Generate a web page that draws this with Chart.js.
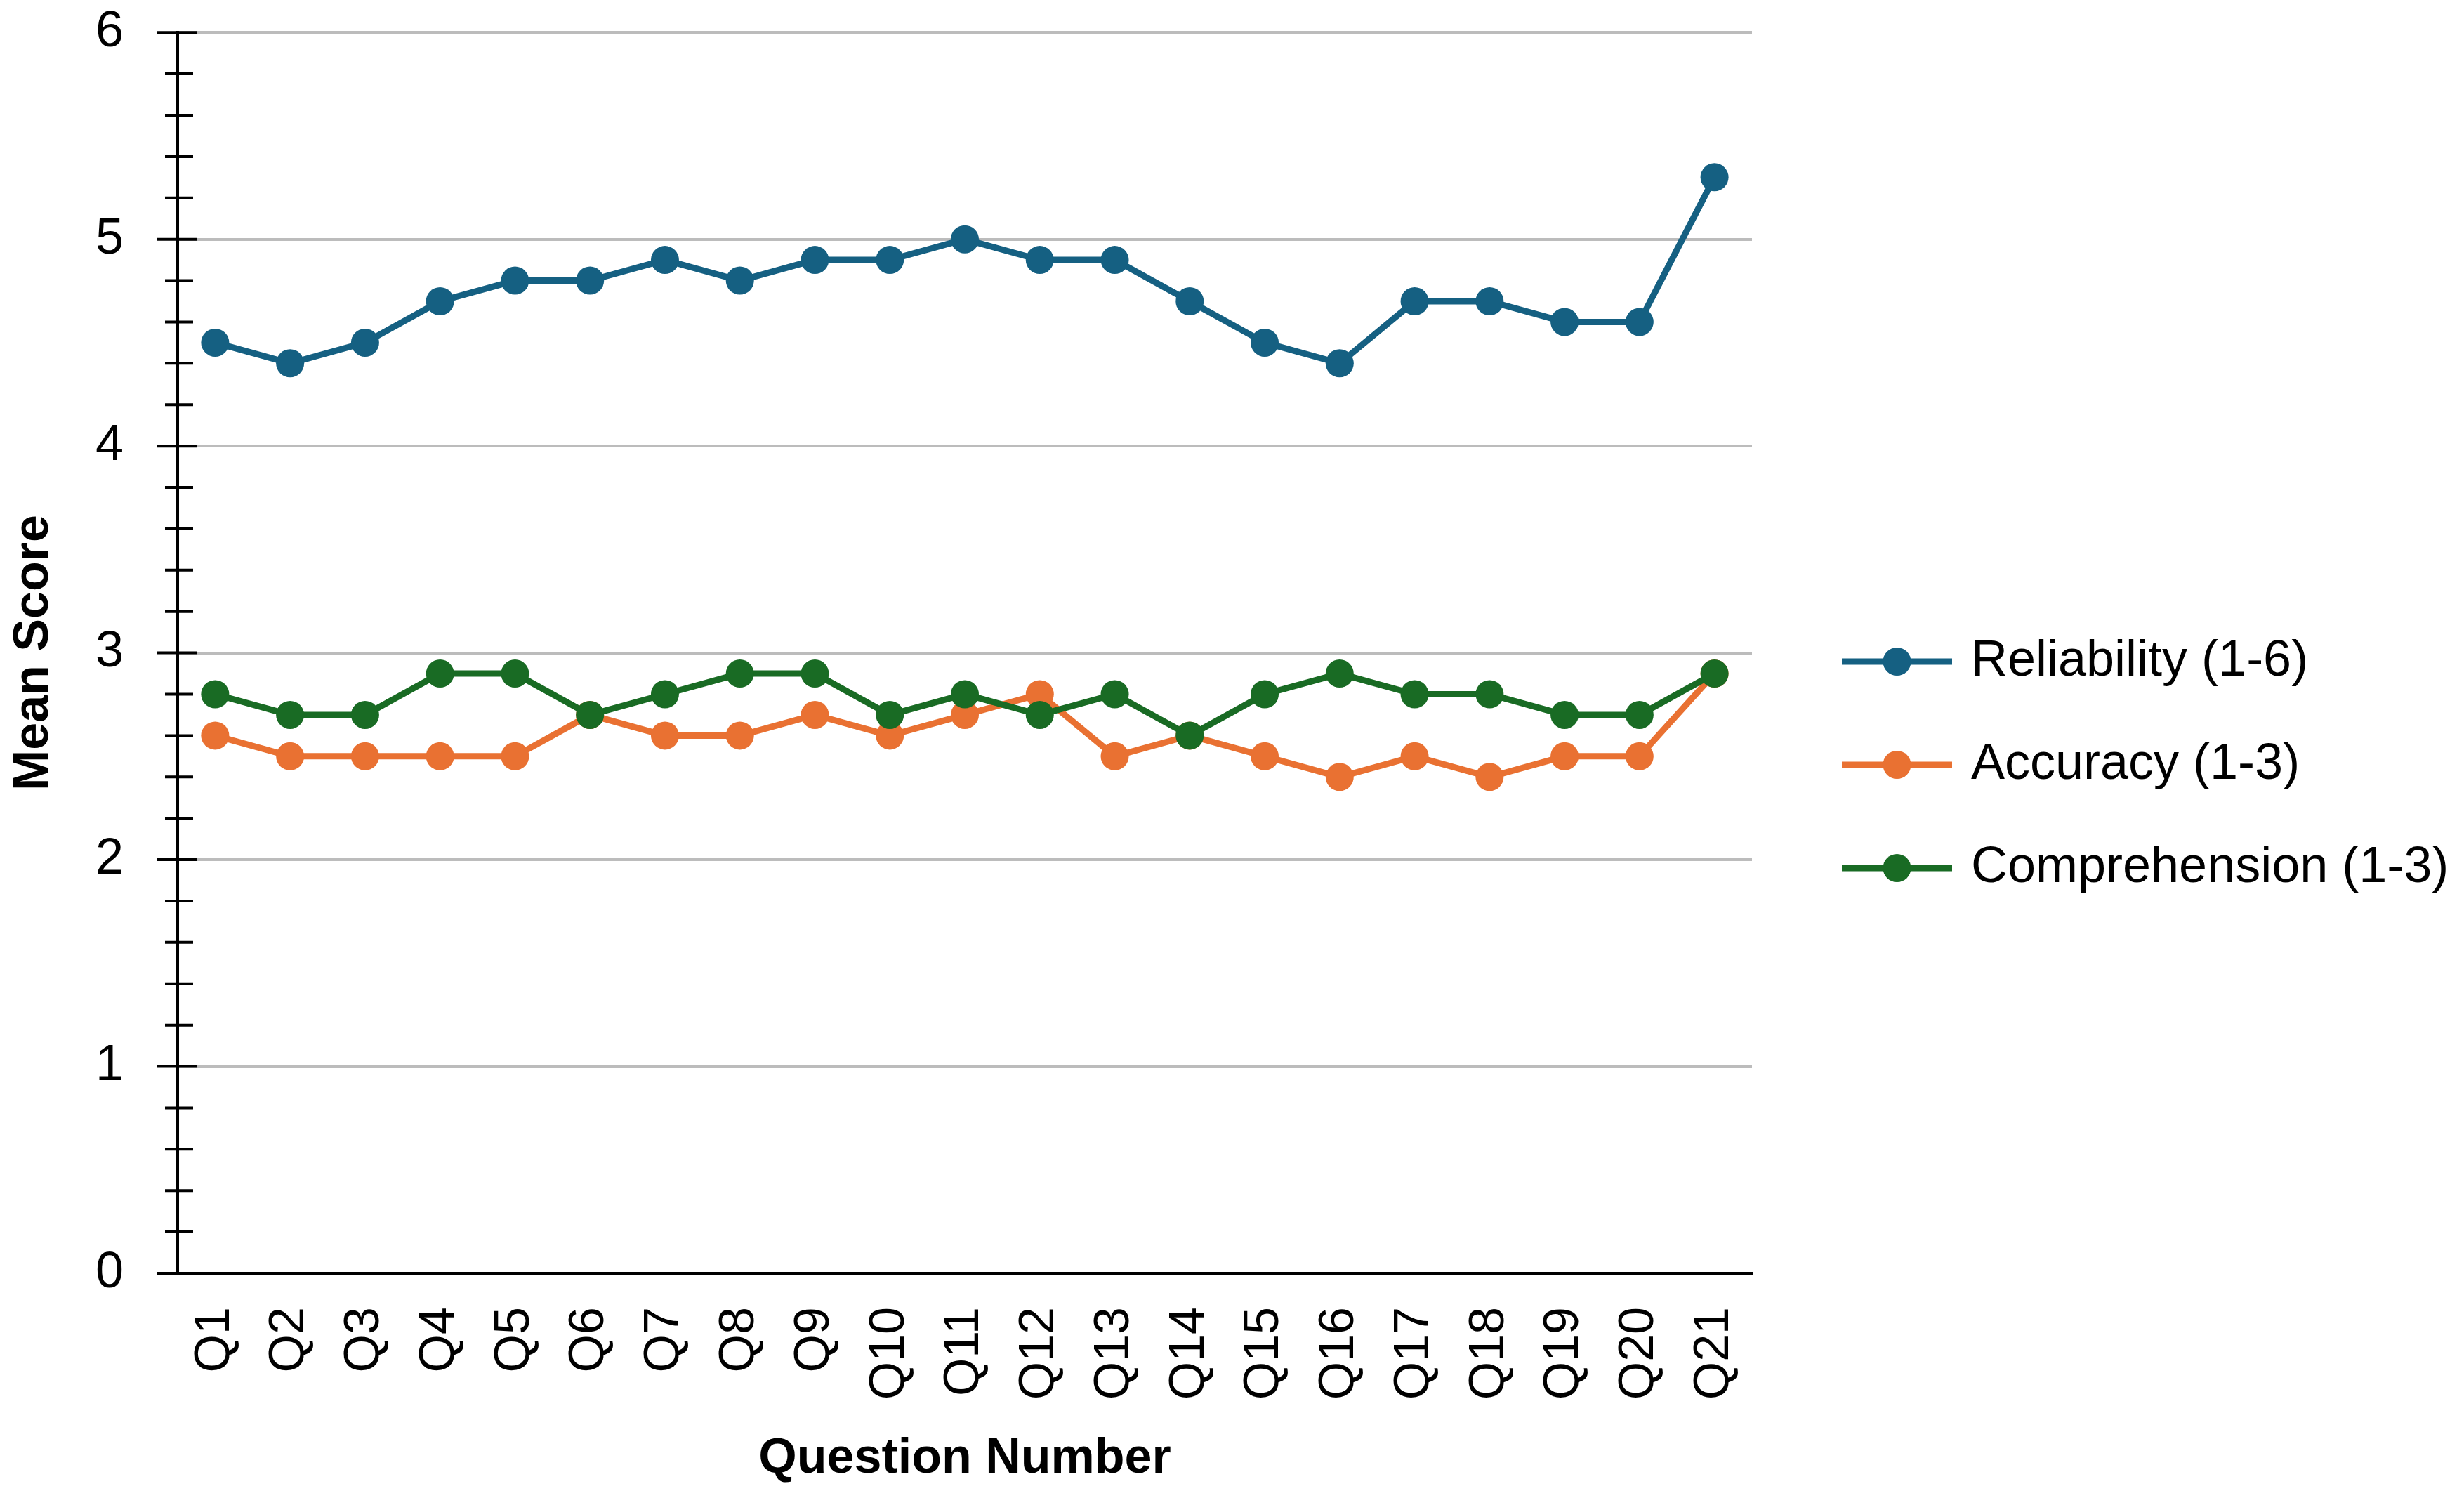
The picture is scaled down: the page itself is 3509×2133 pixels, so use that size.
<!DOCTYPE html>
<html lang="en">
<head>
  <meta charset="UTF-8">
  <title>Mean Score by Question Number</title>
  <style>
    body {
      margin: 0;
      background: #fff;
    }

    #chart-container {
      width: 3509px;
      height: 2133px;
    }
  </style>
</head>
<body>
  <div id="chart-container">
    <canvas id="lineChart"></canvas>
  </div>

  <script src="https://cdn.jsdelivr.net/npm/chart.js"></script>
  <script>
    // values
    const questions = ['Q1', 'Q2', 'Q3', 'Q4', 'Q5', 'Q6', 'Q7', 'Q8', 'Q9', 'Q10', 'Q11',
      'Q12', 'Q13', 'Q14', 'Q15', 'Q16', 'Q17', 'Q18', 'Q19', 'Q20', 'Q21'];
    const reliability = [4.5, 4.4, 4.5, 4.7, 4.8, 4.8, 4.9, 4.8, 4.9, 4.9, 5.0,
      4.9, 4.9, 4.7, 4.5, 4.4, 4.7, 4.7, 4.6, 4.6, 5.3];
    const accuracy = [2.6, 2.5, 2.5, 2.5, 2.5, 2.7, 2.6, 2.6, 2.7, 2.6, 2.7,
      2.8, 2.5, 2.6, 2.5, 2.4, 2.5, 2.4, 2.5, 2.5, 2.9];
    const comprehension = [2.8, 2.7, 2.7, 2.9, 2.9, 2.7, 2.8, 2.9, 2.9, 2.7, 2.8,
      2.7, 2.8, 2.6, 2.8, 2.9, 2.8, 2.8, 2.7, 2.7, 2.9];
    const yTicks = [0, 1, 2, 3, 4, 5, 6];
    const seriesNames = ['Reliability (1-6)', 'Accuracy (1-3)', 'Comprehension (1-3)'];
    const seriesColors = ['#156082', '#E97132', '#196B24'];

    const FONT = "'Liberation Sans', Arial, sans-serif";
    const MINOR_PER_MAJOR = 5;

    // line + dot swatch for the legend
    function swatch(color) {
      const c = document.createElement('canvas');
      c.width = 157;
      c.height = 42;
      const g = c.getContext('2d');
      g.strokeStyle = color;
      g.lineWidth = 9;
      g.beginPath();
      g.moveTo(0, 21);
      g.lineTo(157, 21);
      g.stroke();
      g.fillStyle = color;
      g.beginPath();
      g.arc(78.5, 21, 20, 0, Math.PI * 2);
      g.fill();
      return c;
    }
    const swatches = seriesColors.map(swatch);

    // major and minor tick marks crossing the value axis
    const axisTicks = {
      id: 'axisTicks',
      afterDraw(chart) {
        const y = chart.scales.y;
        const x0 = chart.chartArea.left;
        const ctx = chart.ctx;
        ctx.save();
        ctx.strokeStyle = '#000';
        ctx.lineWidth = 4;
        ctx.beginPath();
        for (let i = 0; i < yTicks.length; i++) {
          const py = y.getPixelForValue(yTicks[i]);
          ctx.moveTo(x0 - 30, py);
          ctx.lineTo(x0 + 27, py);
          if (i === yTicks.length - 1) break;
          const step = (yTicks[i + 1] - yTicks[i]) / MINOR_PER_MAJOR;
          for (let k = 1; k < MINOR_PER_MAJOR; k++) {
            const pm = y.getPixelForValue(yTicks[i] + k * step);
            ctx.moveTo(x0 - 18, pm);
            ctx.lineTo(x0 + 22, pm);
          }
        }
        ctx.stroke();
        ctx.restore();
      }
    };

    // fixed legend width and place
    const legendPlace = {
      id: 'legendPlace',
      beforeLayout(chart) {
        const lg = chart.legend;
        if (lg && !lg._patched) {
          const fit = lg.fit;
          lg.fit = function () {
            fit.call(this);
            this.width = 1014;
          };
          lg._patched = true;
        }
      },
      afterLayout(chart) {
        const lg = chart.legend;
        const h = lg.bottom - lg.top;
        lg.left = 2557;
        lg.right = lg.left + lg.width;
        lg.top = 831;
        lg.bottom = lg.top + h;
      }
    };

    const ctx = document.getElementById('lineChart');
    new Chart(ctx, {
      type: 'line',
      data: {
        labels: questions,
        datasets: [reliability, accuracy, comprehension].map((values, i) => ({
          label: seriesNames[i],
          data: values,
          borderColor: seriesColors[i],
          backgroundColor: seriesColors[i],
          pointBackgroundColor: seriesColors[i],
          borderWidth: 9,
          pointRadius: 20,
          pointHoverRadius: 20,
          pointBorderWidth: 0,
          tension: 0,
          order: 3 - i
        }))
      },
      options: {
        responsive: true,
        maintainAspectRatio: false,
        animation: false,
        layout: {
          padding: { top: 45, left: 0, right: 0, bottom: 0 }
        },
        plugins: {
          tooltip: { enabled: false },
          legend: {
            position: 'right',
            align: 'start',
            labels: {
              usePointStyle: true,
              pointStyleWidth: 139,
              padding: 75,
              color: '#000',
              font: { family: FONT, size: 72 },
              generateLabels(chart) {
                const items = Chart.defaults.plugins.legend.labels.generateLabels(chart);
                items.forEach(it => { it.pointStyle = swatches[it.datasetIndex]; });
                return items.sort((a, b) => a.datasetIndex - b.datasetIndex);
              }
            }
          }
        },
        scales: {
          x: {
            offset: true,
            grid: { display: false, drawTicks: false },
            border: { color: '#000', width: 4 },
            ticks: {
              autoSkip: false,
              minRotation: 90,
              maxRotation: 90,
              padding: 48,
              color: '#000',
              font: { family: FONT, size: 70 }
            },
            title: {
              display: true,
              text: 'Question Number',
              color: '#000',
              font: { family: FONT, size: 70, weight: 'bold' },
              padding: { top: 0, bottom: 13 }
            },
            afterFit(scale) { scale.height = 320; }
          },
          y: {
            min: yTicks[0],
            max: yTicks[yTicks.length - 1],
            afterBuildTicks(scale) { scale.ticks = yTicks.map(v => ({ value: v })); },
            grid: {
              color: '#bcbcbc',
              lineWidth: 4,
              drawTicks: true,
              tickLength: 74,
              tickColor: 'rgba(0,0,0,0)'
            },
            border: { color: '#000', width: 4 },
            ticks: {
              padding: 3,
              color: '#000',
              font: { family: FONT, size: 72 }
            },
            title: {
              display: true,
              text: 'Mean Score',
              color: '#000',
              font: { family: FONT, size: 70, weight: 'bold' },
              padding: { top: 7, bottom: 0 }
            },
            afterFit(scale) { scale.width = 253; }
          }
        }
      },
      plugins: [axisTicks, legendPlace]
    });
  </script>
</body>
</html>
